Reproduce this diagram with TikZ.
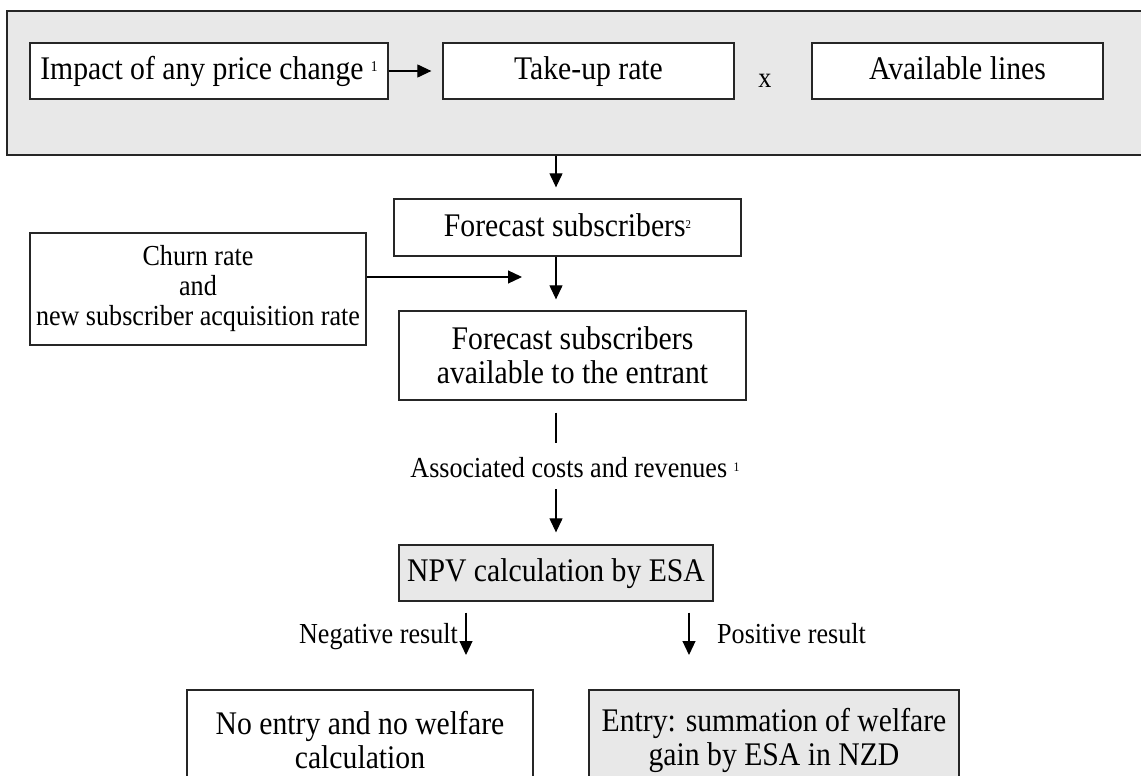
\documentclass[tikz,border=0pt]{standalone}
\usepackage{fontspec}
\setmainfont[FakeStretch=0.9]{Liberation Serif}
\usetikzlibrary{arrows.meta}
\definecolor{panelgray}{RGB}{232,232,232}
\def\bigtext{\fontsize{33}{34}\selectfont}
\def\smalltext{\fontsize{29}{30}\selectfont}
\def\boxstrut{\rule[-7pt]{0pt}{32pt}}
\def\notemark#1#2{\raisebox{#2pt}{\fontsize{#1}{#1}\selectfont 1}}
\def\notetwo#1#2{\raisebox{#2pt}{\fontsize{#1}{#1}\selectfont 2}}

\begin{document}
\begin{tikzpicture}[x=1pt, y=-1pt,
		box/.style={draw=black!85, line width=1.3pt, fill=white, align=center, inner sep=0pt, font=\bigtext},
		graybox/.style={box, fill=panelgray},
		lbl/.style={inner sep=0pt, font=\smalltext},
		arr/.style={-{Triangle[length=14pt,width=13pt]}, line width=1.2pt},
		link/.style={line width=1.2pt}]
		%%%%% START %%%%%
		
		\useasboundingbox (0, 0) rectangle (1141, 776);
		\coordinate (axis) at (556, 0);
		
		\node[graybox, minimum width=1150pt, minimum height=144pt] (panel) at (582, 83) {};
		\node[box, minimum width=358pt, minimum height=56pt] (impact) at (209, 71) {\boxstrut Impact of any price change \notemark{15}{8}};
		\node[box, minimum width=291pt, minimum height=56pt] (takeup) at (588.5, 71) {\boxstrut Take-up rate};
		\node[lbl, anchor=base] (times) at (765, 88) {x};
		\node[box, minimum width=291pt, minimum height=56pt] (lines) at (957.5, 71) {\boxstrut Available lines};
		\draw[arr, shorten >=11pt] (impact) -- (takeup);
		
		\node[box, minimum width=347pt, minimum height=57pt] (forecast) at (567.5, 227.5) {\boxstrut Forecast subscribers\notetwo{12}{8}};
		\draw[arr, shorten >=11pt] (panel.south -| axis) -- (forecast.north -| axis);
		
		\node[box, font=\smalltext, minimum width=336pt, minimum height=112pt] (churn) at (198, 289) {Churn rate\\and\\new subscriber acquisition rate};
		\coordinate (join) at (533, 277);
		\draw[arr, shorten >=11pt] (churn.east |- join) -- (join);
		
		\node[box, minimum width=347pt, minimum height=89pt] (entrant) at (572.5, 355.5) {Forecast subscribers\\available to the entrant};
		\draw[arr, shorten >=11pt] (forecast.south -| axis) -- (entrant.north -| axis);
		
		\node[lbl, anchor=base] (costs) at (575, 477) {Associated costs and revenues \notemark{13}{6}};
		\draw[link, shorten <=12pt, shorten >=14pt] (entrant.south -| axis) -- (costs.north -| axis);
		
		\node[graybox, minimum width=314pt, minimum height=56pt] (npv) at (556, 573) {\boxstrut NPV calculation by ESA};
		\draw[arr, shorten <=12pt, shorten >=12pt] (costs.south -| axis) -- (npv.north -| axis);
		
		\coordinate (negtip) at (466, 655);
		\coordinate (postip) at (689, 655);
		\draw[arr, shorten <=11pt] (npv.south -| negtip) -- (negtip);
		\draw[arr, shorten <=11pt] (npv.south -| postip) -- (postip);
		\node[lbl, anchor=base east] (negative) at (458, 643) {Negative result};
		\node[lbl, anchor=base west] (positive) at (717, 643) {Positive result};
		
		\node[box, minimum width=346pt, minimum height=100pt] (noentry) at (360, 740) {No entry and no welfare\\calculation};
		\node[graybox, minimum width=370pt, minimum height=100pt] (entry) at (774, 740) {Entry: summation of welfare\\gain by ESA in NZD};
		
		%%%%% END %%%%%
	\end{tikzpicture}
\end{document}
